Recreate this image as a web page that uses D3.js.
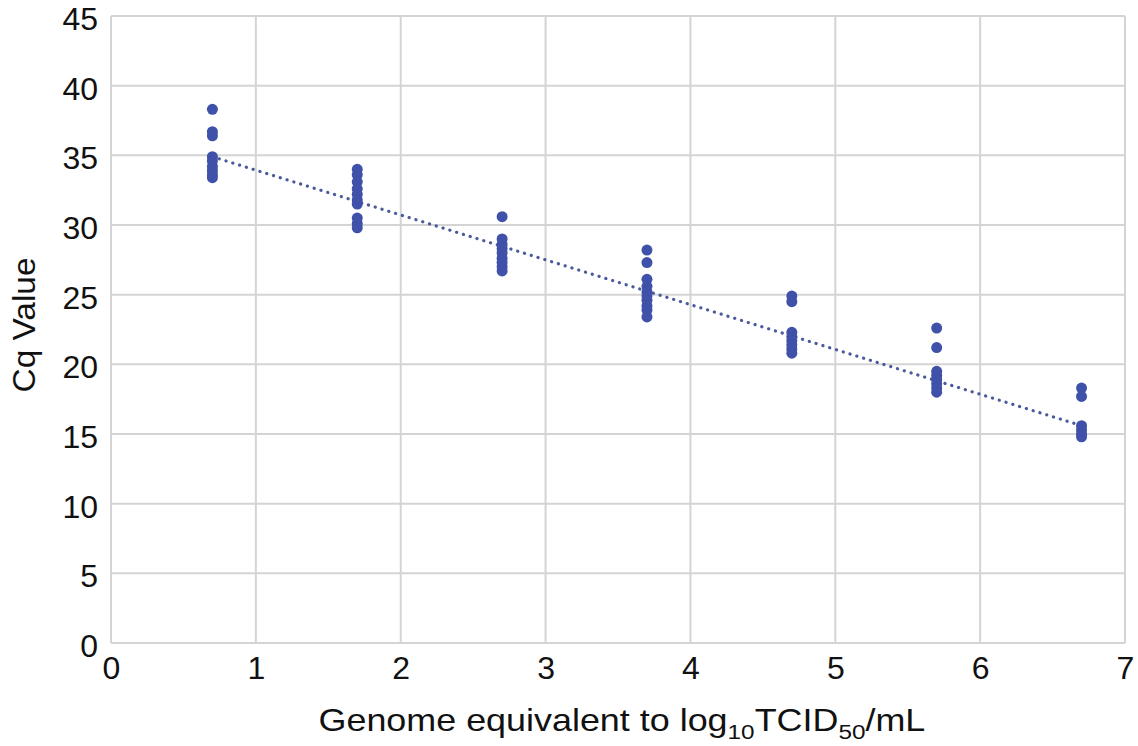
<!DOCTYPE html>
<html>
<head>
<meta charset="utf-8">
<script src="https://cdn.jsdelivr.net/npm/d3@7/dist/d3.min.js"></script>
<style>
  body { margin: 0; background: #fff; }
  svg { display: block; font-family: "Liberation Sans", Arial, sans-serif; }
</style>
</head>
<body>
<svg id="chart"></svg>
<script>
// Dilution levels (x) and the Cq replicates read at each level
const levels = [0.7, 1.7, 2.7, 3.7, 4.7, 5.7, 6.7];
const cq07 = [38.3, 36.7, 36.4, 34.9, 34.6, 34.2, 33.9, 33.6, 33.4];
const cq17 = [34.0, 33.6, 33.1, 32.6, 32.2, 31.8, 31.5, 30.5, 30.1, 29.8];
const cq27 = [30.6, 29.0, 28.6, 28.3, 28.0, 27.6, 27.3, 27.0, 26.7];
const cq37 = [28.2, 27.3, 26.1, 25.6, 25.2, 24.9, 24.6, 24.2, 23.9, 23.4];
const cq47 = [24.9, 24.5, 22.3, 22.0, 21.7, 21.4, 21.1, 20.8];
const cq57 = [22.6, 21.2, 19.5, 19.2, 18.9, 18.6, 18.3, 18.0];
const cq67 = [18.3, 17.7, 15.6, 15.3, 15.0, 14.8];

// trendline end points
const trendX = [0.7, 6.7];
const trendY = [34.9, 15.6];

const xTicks = [0, 1, 2, 3, 4, 5, 6, 7];
const yTicks = [0, 5, 10, 15, 20, 25, 30, 35, 40, 45];

const W = 1138, H = 746;
const margin = { top: 16, right: 13, bottom: 103, left: 111 };
const width = W - margin.left - margin.right,
  height = H - margin.top - margin.bottom;

const svg = d3.select("#chart")
  .attr("width", W)
  .attr("height", H)
  .append("g")
  .attr("transform", `translate(${margin.left},${margin.top})`);

const x = d3.scaleLinear().domain([0, 7]).range([0, width]);
const y = d3.scaleLinear().domain([0, 45]).range([height, 0]);

const gridColor = "#d4d4d4";
const pointColor = "#3f51a8";

// Gridlines
svg.append("g")
  .selectAll("line")
  .data(yTicks)
  .enter()
  .append("line")
  .attr("x1", 0)
  .attr("x2", width)
  .attr("y1", d => y(d))
  .attr("y2", d => y(d))
  .attr("stroke", gridColor)
  .attr("stroke-width", 2);

svg.append("g")
  .selectAll("line")
  .data(xTicks)
  .enter()
  .append("line")
  .attr("x1", d => x(d))
  .attr("x2", d => x(d))
  .attr("y1", 0)
  .attr("y2", height)
  .attr("stroke", gridColor)
  .attr("stroke-width", 2);

// Axes (labels only, lines come from the grid)
const xAxis = svg.append("g")
  .attr("transform", `translate(0,${height})`)
  .call(d3.axisBottom(x).tickValues(xTicks).tickSize(0).tickPadding(13).tickFormat(d3.format("d")));

const yAxis = svg.append("g")
  .call(d3.axisLeft(y).tickValues(yTicks).tickSize(0).tickPadding(13).tickFormat(d3.format("d")));

[xAxis, yAxis].forEach(a => {
  a.select(".domain").remove();
  a.selectAll("text")
    .attr("font-size", "32px")
    .attr("font-family", "Liberation Sans, Arial, sans-serif")
    .attr("fill", "#111");
});
// labels in the reference sit a little below their gridline
yAxis.selectAll("text").attr("dy", "0.42em");

// Trendline
svg.append("line")
  .attr("x1", x(trendX[0]))
  .attr("y1", y(trendY[0]))
  .attr("x2", x(trendX[1]))
  .attr("y2", y(trendY[1]))
  .attr("stroke", "#4a5a9c")
  .attr("stroke-width", 3.2)
  .attr("stroke-linecap", "round")
  .attr("stroke-dasharray", "0.1,7");

// Points
const series = [cq07, cq17, cq27, cq37, cq47, cq57, cq67];
const points = [];
series.forEach((vals, i) => vals.forEach(v => points.push({ x: levels[i], y: v })));

svg.selectAll(".dot")
  .data(points)
  .enter()
  .append("circle")
  .attr("class", "dot")
  .attr("cx", d => x(d.x))
  .attr("cy", d => y(d.y))
  .attr("r", 5.5)
  .attr("fill", pointColor);

// Axis titles (the reference type is a bit wider, so stretch to its span)
const xtG = svg.append("g");
const xt = xtG.append("text")
  .attr("x", 0)
  .attr("y", 0)
  .attr("font-size", "31px")
  .attr("fill", "#111");
xt.append("tspan").text("Genome equivalent to log");
xt.append("tspan").attr("font-size", "21px").attr("dy", 8).text("10");
xt.append("tspan").attr("dy", -8).text("TCID");
xt.append("tspan").attr("font-size", "21px").attr("dy", 8).text("50");
xt.append("tspan").attr("dy", -8).text("/mL");
const xtW = xt.node().getBBox().width;
const xtTarget = 607;
xtG.attr("transform", `translate(${width / 2 - xtTarget / 2 + 4},${height + 88}) scale(${xtTarget / xtW},1)`);

const ytG = svg.append("g");
const yt = ytG.append("text")
  .attr("text-anchor", "middle")
  .attr("font-size", "31px")
  .attr("fill", "#111")
  .text("Cq Value");
const ytW = yt.node().getBBox().width;
ytG.attr("transform", `translate(${-76},${309}) rotate(-90) scale(${135 / ytW},1)`);
</script>
</body>
</html>
